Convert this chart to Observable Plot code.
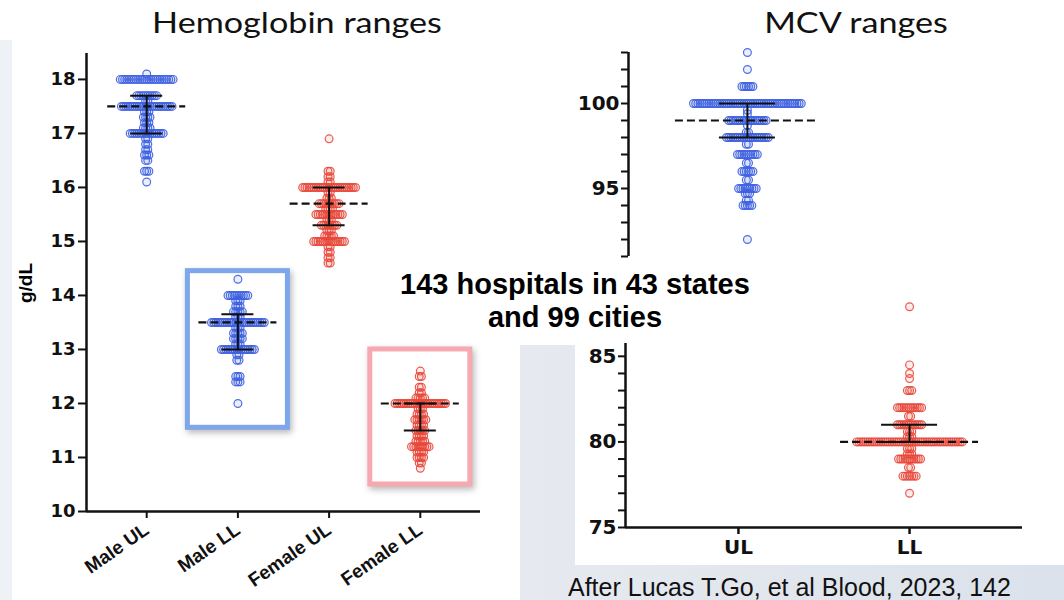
<!DOCTYPE html>
<html><head><meta charset="utf-8">
<script src="https://cdn.jsdelivr.net/npm/d3@7"></script>
<script src="https://cdn.jsdelivr.net/npm/@observablehq/plot@0.6"></script>
<style>
body{margin:0;width:1064px;height:600px;overflow:hidden;position:relative;background:linear-gradient(90deg,#eef1f5 0%,#e5e9ef 55%,#dbe2eb 100%);font-family:"Liberation Sans",Arial,sans-serif}
.panel{position:absolute;background:#fff}
.abs{position:absolute}
.title{position:absolute;top:4px;font-family:Lato,sans-serif;font-size:28px;color:#111;white-space:nowrap;transform:translateX(-50%) scaleX(1.22);line-height:36px}
svg{overflow:visible}
</style></head><body>
<div class="panel" style="left:0;top:0;width:1064px;height:40px"></div>
<div class="panel" style="left:12px;top:40px;width:508px;height:560px"></div>
<div class="panel" style="left:520px;top:40px;width:544px;height:305px"></div>
<div class="panel" style="left:575px;top:345px;width:489px;height:220px"></div>
<div class="title" style="left:297px">Hemoglobin ranges</div>
<div class="title" style="left:856px">MCV ranges</div>
<div id="hb" class="abs" style="left:0;top:40px"></div>
<div id="mcvU" class="abs" style="left:555px;top:40px"></div>
<div id="mcvL" class="abs" style="left:555px;top:260px"></div>
<div class="abs" style="left:4px;top:268px;width:44px;height:30px;transform:rotate(-90deg);font:bold 19px 'Liberation Sans',Arial;text-align:center;line-height:30px">g/dL</div>
<div class="abs" style="left:375px;top:268px;width:400px;text-align:center;font:bold 29px/33px 'Liberation Sans',Arial;color:#000">143 hospitals in 43 states<br>and 99 cities</div>
<div class="abs" style="left:568px;top:575px;white-space:nowrap;font:25px/25px 'Liberation Sans',Arial;color:#111">After Lucas T.Go, et al Blood, 2023, 142</div>
<script>
// ---------- Hemoglobin data: [value g/dL, number of hospitals] ----------
const hbCategories = ["Male UL", "Male LL", "Female UL", "Female LL"];
const maleUL = [[18.1,1],[18.0,25],[17.7,10],[17.6,2],[17.5,24],[17.4,3],[17.3,4],[17.2,3],[17.1,4],[17.0,16],[16.9,2],[16.8,2],[16.7,2],[16.6,3],[16.5,2],[16.3,3],[16.1,1]];
const maleLL = [[14.3,1],[14.0,10],[13.9,3],[13.8,3],[13.7,5],[13.6,3],[13.5,25],[13.4,3],[13.3,5],[13.2,5],[13.1,3],[13.0,16],[12.9,2],[12.8,2],[12.5,3],[12.4,3],[12.0,1]];
const femaleUL = [[16.9,1],[16.3,2],[16.2,2],[16.1,2],[16.0,25],[15.9,2],[15.8,3],[15.7,10],[15.6,4],[15.5,13],[15.4,3],[15.3,8],[15.2,3],[15.1,5],[15.0,15],[14.9,2],[14.8,2],[14.7,2],[14.6,2]];
const femaleLL = [[12.6,1],[12.5,2],[12.3,2],[12.2,2],[12.1,5],[12.0,24],[11.9,3],[11.8,4],[11.7,6],[11.6,4],[11.5,5],[11.4,4],[11.3,5],[11.2,9],[11.1,4],[11.0,4],[10.9,2],[10.8,1]];
const hbMedian = [17.5, 13.5, 15.7, 12.0];
const hbQ1 = [17.0, 13.0, 15.3, 11.5];
const hbQ3 = [17.7, 13.65, 16.0, 12.0];
const hbTicks = [10, 11, 12, 13, 14, 15, 16, 17, 18];
const hbBoxCategory = ["Male LL", "Female LL"];
const hbBoxLow = [11.55, 10.5];
const hbBoxHigh = [14.45, 13.0];

// ---------- MCV data: [value fL, number of hospitals] ----------
const mcvCategories = ["UL", "LL"];
const mcvUL = [[103,1],[102,1],[101,6],[100,50],[99.6,1],[99.4,1],[99,18],[98.7,1],[98.3,2],[98,20],[97.6,2],[97,10],[96.5,2],[96,6],[95.5,2],[95,9],[94.7,3],[94.3,2],[94,5],[92,1]];
const mcvLL = [[87.9,1],[84.5,1],[84.0,1],[83.7,1],[83,3],[82,12],[81.5,2],[81,12],[80.6,3],[80.3,3],[80,49],[79.6,3],[79.3,3],[79,11],[78.5,2],[78,7],[77,1]];
const mcvMedian = [99, 80];
const mcvQ1 = [98, 80];
const mcvQ3 = [100, 81];
const mcvUpperTicks = [95, 100];
const mcvLowerTicks = [75, 80, 85];

// ---------- styling / layout ----------
const BLUE = "#3d5fe0", RED = "#e8483a", INK = "#111";
const GAP = 2.2;         // px between neighbouring dots of one value
const PAD = 0.66;        // point padding of category axis
const TICKFONT = "DejaVu Sans";

function expand(rows, ci, step) {
  const out = [];
  for (const [v, n] of rows) for (let k = 0; k < n; k++) out.push({ci, v, x: ci + (k - (n - 1) / 2) * GAP / step});
  return out;
}
function statsMarks(stats, step, halfMed, halfCap) {
  const m = halfMed / step, c = halfCap / step;
  return [
    Plot.ruleY(stats, {y: "med", x1: d => d.i - m, x2: d => d.i + m, stroke: INK, strokeWidth: 2.2, strokeDasharray: "8,4"}),
    Plot.ruleX(stats, {x: "i", y1: "q1", y2: "q3", stroke: INK, strokeWidth: 2}),
    Plot.ruleY(stats, {y: "q1", x1: d => d.i - c, x2: d => d.i + c, stroke: INK, strokeWidth: 2}),
    Plot.ruleY(stats, {y: "q3", x1: d => d.i - c, x2: d => d.i + c, stroke: INK, strokeWidth: 2})
  ];
}
function dotMark(data, color) {
  return Plot.dot(data, {x: "x", y: "v", r: 3.9, stroke: color, strokeWidth: 1.2, strokeOpacity: 0.9, fill: color, fillOpacity: 0.1});
}

// ---------- Hemoglobin plot ----------
{
  const W = 520, H = 560, ml = 86, mr = 40, mt = 13, mb = 89;
  const xDom = [-PAD, hbCategories.length - 1 + PAD];
  const yDom = [10, 18.48];
  const step = (W - ml - mr) / (xDom[1] - xDom[0]);
  const groups = [maleUL, maleLL, femaleUL, femaleLL];
  const dots = groups.flatMap((g, i) => expand(g, i, step));
  const stats = hbCategories.map((c, i) => ({i, med: hbMedian[i], q1: hbQ1[i], q3: hbQ3[i]}));
  const boxes = hbBoxCategory.map((c, k) => ({i: hbCategories.indexOf(c), lo: hbBoxLow[k], hi: hbBoxHigh[k], male: c.startsWith("Male")}));
  const bw = 50 / step;
  const isMale = d => hbCategories[d.ci].startsWith("Male");
  const chart = Plot.plot({
    width: W, height: H, marginLeft: ml, marginRight: mr, marginTop: mt, marginBottom: mb,
    style: {background: "transparent", color: INK},
    x: {domain: xDom}, y: {domain: yDom},
    marks: [
      Plot.rect(boxes.filter(d => d.male), {x1: d => d.i - bw, x2: d => d.i + bw, y1: "lo", y2: "hi", fill: "white", stroke: "#7ea6ea", strokeWidth: 5}),
      Plot.rect(boxes.filter(d => !d.male), {x1: d => d.i - bw, x2: d => d.i + bw, y1: "lo", y2: "hi", fill: "white", stroke: "#f6a9b1", strokeWidth: 5}),
      dotMark(dots.filter(isMale), BLUE),
      dotMark(dots.filter(d => !isMale(d)), RED),
      ...statsMarks(stats, step, 39, 16),
      Plot.ruleX([xDom[0]], {y1: yDom[0], y2: yDom[1], stroke: INK, strokeWidth: 2.5}),
      Plot.ruleY([yDom[0]], {x1: xDom[0], x2: xDom[1], stroke: INK, strokeWidth: 2.5}),
      Plot.axisY(hbTicks, {tickSize: 8, tickPadding: 3, strokeWidth: 2, tickFormat: d => String(d), fontSize: 18, fontWeight: "bold", fontFamily: TICKFONT, label: null}),
      Plot.axisX(d3.range(hbCategories.length), {tickSize: 7, tickPadding: 9, strokeWidth: 2, tickRotate: -35, tickFormat: i => hbCategories[i], fontSize: 19, fontWeight: "bold", fontFamily: "Liberation Sans", label: null})
    ]
  });
  d3.select(chart).selectAll('g[aria-label="rect"] rect').style("filter", "drop-shadow(2px 3px 3px rgba(0,0,0,0.28))");
  document.getElementById("hb").append(chart);
}

// ---------- MCV upper (UL) ----------
{
  const W = 509, H = 218, ml = 73, mr = 18, mt = 12, mb = 2;
  const xDom = [-PAD, mcvCategories.length - 1 + PAD];
  const yDom = [91, 103];
  const step = (W - ml - mr) / (xDom[1] - xDom[0]);
  const dots = expand(mcvUL, 0, step);
  const stats = [{i: 0, med: mcvMedian[0], q1: mcvQ1[0], q3: mcvQ3[0]}];
  const chart = Plot.plot({
    width: W, height: H, marginLeft: ml, marginRight: mr, marginTop: mt, marginBottom: mb,
    style: {background: "transparent", color: INK},
    x: {domain: xDom, axis: null}, y: {domain: yDom},
    marks: [
      dotMark(dots, BLUE),
      ...statsMarks(stats, step, 72, 28),
      Plot.ruleX([xDom[0]], {y1: yDom[0], y2: yDom[1], stroke: INK, strokeWidth: 2.5}),
      Plot.axisY(d3.range(yDom[0], yDom[1] + 1), {tickSize: 7, tickPadding: 2, strokeWidth: 2, tickFormat: d => mcvUpperTicks.includes(d) ? String(d) : "", fontSize: 20, fontWeight: "bold", fontFamily: TICKFONT, label: null})
    ]
  });
  document.getElementById("mcvU").append(chart);
}

// ---------- MCV lower (LL) ----------
{
  const W = 509, H = 305, ml = 70, mr = 42, mt = 83, mb = 38;
  const xDom = [-PAD, mcvCategories.length - 1 + PAD];
  const yDom = [75, 85.75];
  const step = (W - ml - mr) / (xDom[1] - xDom[0]);
  const dots = expand(mcvLL, 1, step);
  const stats = [{i: 1, med: mcvMedian[1], q1: mcvQ1[1], q3: mcvQ3[1]}];
  const chart = Plot.plot({
    width: W, height: H, marginLeft: ml, marginRight: mr, marginTop: mt, marginBottom: mb,
    style: {background: "transparent", color: INK},
    x: {domain: xDom}, y: {domain: yDom},
    marks: [
      dotMark(dots, RED),
      ...statsMarks(stats, step, 69, 28),
      Plot.ruleX([xDom[0]], {y1: yDom[0], y2: yDom[1], stroke: INK, strokeWidth: 2.5}),
      Plot.ruleY([yDom[0]], {x1: xDom[0], x2: xDom[1], stroke: INK, strokeWidth: 2.5}),
      Plot.axisY(d3.range(75, 86), {tickSize: 7, tickPadding: 2, strokeWidth: 2, tickFormat: d => mcvLowerTicks.includes(d) ? String(d) : "", fontSize: 20, fontWeight: "bold", fontFamily: TICKFONT, label: null}),
      Plot.axisX(d3.range(mcvCategories.length), {tickSize: 7, tickPadding: 5, strokeWidth: 2.5, tickFormat: i => mcvCategories[i], fontSize: 20, fontWeight: "bold", fontFamily: TICKFONT, label: null})
    ]
  });
  document.getElementById("mcvL").append(chart);
}
</script>
</body></html>
